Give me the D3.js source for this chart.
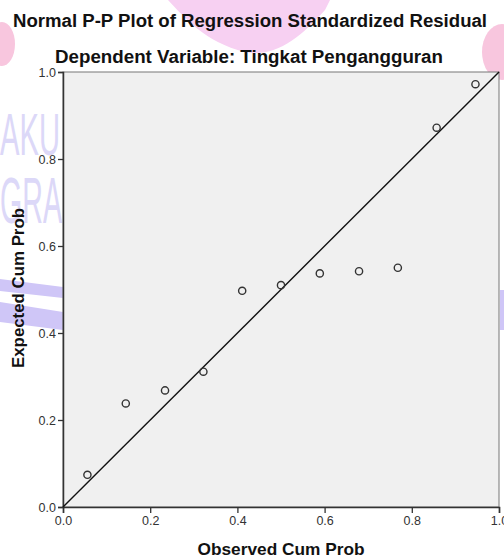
<!DOCTYPE html>
<html>
<head>
<meta charset="UTF-8">
<title>Normal P-P Plot</title>
<style>
  body { margin: 0; background: #fff; }
  text { font-family: 'Liberation Sans', Arial, sans-serif; }
</style>
</head>
<body>
<svg id="chart" width="504" height="558"></svg>
<script src="https://d3js.org/d3.v7.min.js"></script>
<script>
// data
var observed = [0.056, 0.144, 0.234, 0.322, 0.411, 0.500, 0.589, 0.679, 0.768, 0.857, 0.946];
var expected = [0.074, 0.238, 0.268, 0.311, 0.497, 0.510, 0.537, 0.542, 0.550, 0.872, 0.972];
var tickValues = [0, 0.2, 0.4, 0.6, 0.8, 1.0];
var titleLines = ["Normal P-P Plot of Regression Standardized Residual", "Dependent Variable: Tingkat Pengangguran"];

var svg = d3.select('#chart');
var margin = {left: 63, right: 5, top: 72, bottom: 51};
var width = 504 - margin.left - margin.right;
var height = 558 - margin.top - margin.bottom;

// faint watermark behind everything
var wm = svg.append('g');
wm.append('ellipse').attr('cx', 2).attr('cy', 44).attr('rx', 13).attr('ry', 22).attr('fill', '#f8c6de');
wm.append('path').attr('d', 'M168,0 C185,18 205,42 245,52 C275,58 300,38 325,10 L330,0 Z').attr('fill', '#f7d0f2');
wm.append('ellipse').attr('cx', 502).attr('cy', 52).attr('rx', 20).attr('ry', 28).attr('fill', '#f8c6de');
wm.append('text').attr('x', 0).attr('y', 155).attr('font-size', 60)
  .attr('textLength', 60).attr('lengthAdjust', 'spacingAndGlyphs')
  .attr('fill', '#dcd8f8').text('AKU');
wm.append('text').attr('x', 0).attr('y', 223).attr('font-size', 64)
  .attr('textLength', 62).attr('lengthAdjust', 'spacingAndGlyphs')
  .attr('fill', '#dcd8f8').text('GRA');
wm.append('path').attr('d', 'M0,279 L63,287 L63,298 L0,291 Z').attr('fill', '#cfc6f7');
wm.append('path').attr('d', 'M0,302 L63,312 L63,330 L0,322 Z').attr('fill', '#cfc6f7');
wm.append('path').attr('d', 'M500,290 L504,290 L504,330 L500,330 Z').attr('fill', '#cfc6f7');

var x = d3.scaleLinear().domain([0, 1]).range([0, width]);
var y = d3.scaleLinear().domain([0, 1]).range([height, 0]);

var g = svg.append('g').attr('transform', 'translate(' + margin.left + ',' + margin.top + ')');

// plot area
g.append('rect')
  .attr('width', width).attr('height', height)
  .attr('fill', '#f0f0f0')
  .attr('stroke', '#777').attr('stroke-width', 1);

// axes
var xAxis = g.append('g').attr('transform', 'translate(0,' + height + ')')
  .call(d3.axisBottom(x).tickValues(tickValues).tickFormat(d3.format('.1f')).tickSize(6).tickPadding(3));
var yAxis = g.append('g')
  .call(d3.axisLeft(y).tickValues(tickValues).tickFormat(d3.format('.1f')).tickSize(5).tickPadding(2));
[xAxis, yAxis].forEach(function(a) {
  a.select('.domain').attr('stroke', '#333').attr('stroke-width', 1.5);
  a.selectAll('.tick line').attr('stroke', '#333').attr('stroke-width', 1.3);
  a.selectAll('.tick text').attr('fill', '#333').style('font-size', '12.5px')
    .style('font-family', "'Liberation Sans', Arial, sans-serif");
});

// reference line
g.append('line')
  .attr('x1', x(0)).attr('y1', y(0))
  .attr('x2', x(1)).attr('y2', y(1))
  .attr('stroke', '#111').attr('stroke-width', 1.4);

// points
g.selectAll('circle')
  .data(observed)
  .enter()
  .append('circle')
  .attr('cx', function(d) { return x(d); })
  .attr('cy', function(d, i) { return y(expected[i]); })
  .attr('r', 3.6)
  .attr('fill', 'none')
  .attr('stroke', '#333')
  .attr('stroke-width', 1.4);

// titles
svg.append('text').attr('x', 250).attr('y', 27).attr('text-anchor', 'middle')
  .attr('font-size', 18).attr('font-weight', 'bold').attr('fill', '#111')
  .attr('textLength', 474).attr('lengthAdjust', 'spacingAndGlyphs').text(titleLines[0]);
svg.append('text').attr('x', 249).attr('y', 63).attr('text-anchor', 'middle')
  .attr('font-size', 18).attr('font-weight', 'bold').attr('fill', '#111')
  .attr('textLength', 388).attr('lengthAdjust', 'spacingAndGlyphs').text(titleLines[1]);

// axis labels
svg.append('text').attr('x', 281).attr('y', 555).attr('text-anchor', 'middle')
  .attr('font-size', 16.5).attr('font-weight', 'bold').attr('fill', '#111')
  .attr('textLength', 167).attr('lengthAdjust', 'spacingAndGlyphs').text('Observed Cum Prob');
svg.append('text').attr('transform', 'translate(24,288) rotate(-90)')
  .attr('text-anchor', 'middle')
  .attr('font-size', 16.5).attr('font-weight', 'bold').attr('fill', '#111')
  .attr('textLength', 160).attr('lengthAdjust', 'spacingAndGlyphs').text('Expected Cum Prob');
</script>
</body>
</html>
